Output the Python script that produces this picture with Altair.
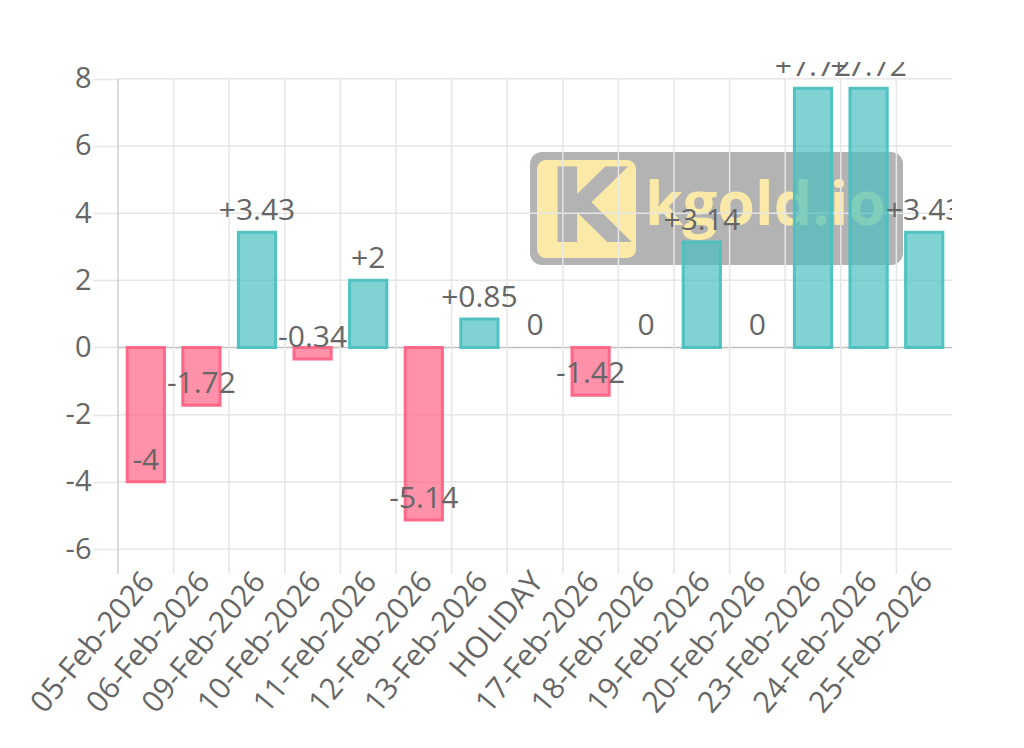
import altair as alt
import pandas as pd

# Daily change per trading day
days = [
    "05-Feb-2026", "06-Feb-2026", "09-Feb-2026", "10-Feb-2026", "11-Feb-2026",
    "12-Feb-2026", "13-Feb-2026", "HOLIDAY", "17-Feb-2026", "18-Feb-2026",
    "19-Feb-2026", "20-Feb-2026", "23-Feb-2026", "24-Feb-2026", "25-Feb-2026",
]
changes = [-4, -1.72, 3.43, -0.34, 2, -5.14, 0.85, 0, -1.42, 0, 3.14, 0, 7.72, 7.72, 3.43]
y_ticks = [-6, -4, -2, 0, 2, 4, 6, 8]

df = pd.DataFrame({"day": days, "change": changes})
ticks_df = pd.DataFrame({"tick": y_ticks})

TEAL = "#4bc0c0"
PINK = "#ff6384"
GRID = "#e6e6e6"
TEXT = "#666666"
FONT = "Open Sans"

x_scale = alt.Scale(domain=days, paddingInner=0, paddingOuter=0)
y_scale = alt.Scale(domain=[-6, 8.5], nice=False)

x_axis = alt.Axis(
    title=None, domain=False, ticks=False, grid=False,
    labelAngle=-50, labelAlign="right", labelBaseline="middle",
    labelPadding=27, labelOffset=3, labelFont=FONT, labelFontSize=30,
    labelColor=TEXT, labelOverlap=False, labelBound=False,
)
y_axis = alt.Axis(
    title=None, values=y_ticks, domain=False, grid=False,
    tickSize=25, tickColor=GRID, tickWidth=1.5,
    labelPadding=2, labelFont=FONT, labelFontSize=29, labelColor=TEXT,
    labelExpr="'' + datum.value",
)

# Watermark badge behind the chart
one = alt.Data(values=[{}])
badge = alt.Chart(one).mark_rect(cornerRadius=12, color="#b3b3b3").encode(
    x=alt.value(412), x2=alt.value(785), y=alt.value(90), y2=alt.value(203)
)
tile = alt.Chart(one).mark_rect(cornerRadius=9, color="#fbe9a7").encode(
    x=alt.value(419), x2=alt.value(518), y=alt.value(98), y2=alt.value(196)
)
k_glyph = alt.Chart(one).mark_text(
    text="K", font="DejaVu Sans", fontWeight="bold", fontSize=104,
    color="#b3b3b3", align="left", baseline="alphabetic",
).encode(x=alt.value(430), y=alt.value(180))
word = alt.Chart(one).mark_text(
    text="kgold.io", font=FONT, fontWeight="bold", fontSize=61,
    color="#fbe9a7", align="left", baseline="alphabetic",
).encode(x=alt.value(527), y=alt.value(163))

# Grid: horizontal lines at the y ticks, vertical lines at band edges
hgrid = alt.Chart(ticks_df).mark_rule(strokeWidth=1.5).encode(
    y=alt.Y("tick:Q", scale=y_scale, axis=y_axis),
    color=alt.condition(alt.datum.tick == 0, alt.value("#bfbfbf"), alt.value(GRID)),
)
vgrid = alt.Chart(df).mark_rule(strokeWidth=1.5, y2Offset=25).encode(
    x=alt.X("day:N", scale=x_scale, bandPosition=0, axis=x_axis),
    y=alt.YDatum(8, scale=y_scale, axis=y_axis),
    y2=alt.Y2Datum(-6),
    color=alt.condition(alt.datum.day == days[0], alt.value("#cfcfcf"), alt.value(GRID)),
)

bars = alt.Chart(df).transform_filter(alt.datum.change != 0).mark_bar(
    width=alt.RelativeBandSize(0.67), strokeWidth=3, fillOpacity=0.7, strokeOpacity=0.95
).encode(
    x=alt.X("day:N", scale=x_scale, axis=x_axis),
    y=alt.Y("change:Q", scale=y_scale, axis=y_axis),
    fill=alt.condition(alt.datum.change > 0, alt.value(TEAL), alt.value(PINK)),
    stroke=alt.condition(alt.datum.change > 0, alt.value(TEAL), alt.value(PINK)),
)

labels = alt.Chart(df).transform_calculate(
    label="datum.change > 0 ? '+' + datum.change : '' + datum.change"
).mark_text(
    font=FONT, fontSize=30, color=TEXT, baseline="middle", dy=-21, clip=True
).encode(
    x=alt.X("day:N", scale=x_scale, axis=x_axis),
    y=alt.Y("change:Q", scale=y_scale, axis=y_axis),
    text="label:N",
)

chart = alt.layer(badge, tile, k_glyph, word, hgrid, vgrid, bars, labels).properties(
    width=834,
    height=487,
    autosize=alt.AutoSizeParams(type="none"),
    padding={"left": 118, "top": 62, "right": 72, "bottom": 199},
    background="white",
).configure_view(stroke=None)

chart.save("out.html", embed_options={"renderer": "svg", "actions": False})
